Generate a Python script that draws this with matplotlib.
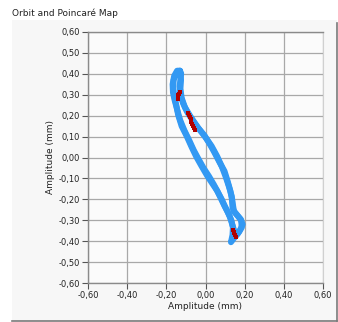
import matplotlib
matplotlib.use("Agg")
import matplotlib.pyplot as plt
from matplotlib.patches import Rectangle
from matplotlib.lines import Line2D

# orbit trace (mm), one closed pass
orbit_x = [-0.130, -0.145, -0.160, -0.168, -0.166, -0.158, -0.145, -0.130, -0.108,
           -0.082, -0.060, -0.037, -0.010, 0.018, 0.043, 0.063, 0.083, 0.100,
           0.118, 0.132, 0.140, 0.138, 0.130, 0.142, 0.165, 0.185, 0.182, 0.165,
           0.148, 0.138, 0.135, 0.127, 0.112, 0.097, 0.070, 0.042, 0.018, -0.005,
           -0.036, -0.068, -0.095, -0.115, -0.128, -0.132, -0.128, -0.124, -0.130]
orbit_y = [0.415, 0.415, 0.390, 0.350, 0.310, 0.275, 0.230, 0.180, 0.130,
           0.080, 0.035, -0.005, -0.050, -0.090, -0.130, -0.165, -0.200, -0.235,
           -0.270, -0.300, -0.335, -0.370, -0.405, -0.390, -0.365, -0.335, -0.300, -0.280,
           -0.262, -0.240, -0.200, -0.160, -0.110, -0.065, -0.020, 0.030, 0.070, 0.105,
           0.140, 0.180, 0.220, 0.260, 0.300, 0.340, 0.375, 0.400, 0.415]

# second pass, slightly shifted, gives the band its width
orbit2_x = [-0.128, -0.150, -0.163, -0.164, -0.160, -0.150, -0.140, -0.122, -0.095,
            -0.071, -0.048, -0.021, 0.007, 0.035, 0.060, 0.078, 0.096, 0.113,
            0.125, 0.135, 0.145, 0.140, 0.150, 0.172, 0.190, 0.180, 0.162, 0.145,
            0.140, 0.134, 0.120, 0.104, 0.084, 0.060, 0.031, -0.003, -0.040, -0.076,
            -0.105, -0.122, -0.128, -0.125, -0.128]
orbit2_y = [0.405, 0.400, 0.370, 0.330, 0.295, 0.255, 0.205, 0.150, 0.100,
            0.050, 0.005, -0.040, -0.085, -0.125, -0.160, -0.195, -0.230, -0.260,
            -0.285, -0.315, -0.345, -0.380, -0.375, -0.355, -0.320, -0.295, -0.275, -0.255,
            -0.225, -0.185, -0.140, -0.095, -0.045, 0.005, 0.055, 0.100, 0.145, 0.195,
            0.240, 0.285, 0.330, 0.370, 0.405]

# Poincare points
poinc_x = [-0.142, -0.138, -0.134, -0.130, -0.140,
           -0.088, -0.084, -0.080, -0.076, -0.072, -0.068, -0.064, -0.060, -0.056,
           0.138, 0.143, 0.148, 0.153, 0.157]
poinc_y = [0.280, 0.292, 0.302, 0.312, 0.300,
           0.212, 0.202, 0.192, 0.182, 0.172, 0.162, 0.152, 0.142, 0.132,
           -0.345, -0.355, -0.363, -0.370, -0.378]

ticks = [-0.6, -0.5, -0.4, -0.3, -0.2, -0.1, 0.0, 0.1, 0.2, 0.3, 0.4, 0.5, 0.6]
xticks = [-0.6, -0.4, -0.2, 0.0, 0.2, 0.4, 0.6]

def fmt(v):
    return ("%.2f" % v).replace(".", ",").replace("-0,00", "0,00")

plt.rcParams['font.family'] = ['DejaVu Sans']

fig = plt.figure(figsize=(3.38, 3.22), dpi=100, facecolor='white')

# panel behind the plot
fig.add_artist(Rectangle((12 / 338, 1 / 322), 325 / 338, 301 / 322,
                         transform=fig.transFigure, facecolor='#f7f7f7',
                         edgecolor='none', zorder=0))
fig.add_artist(Line2D([336.5 / 338, 336.5 / 338], [1 / 322, 299 / 322],
                      transform=fig.transFigure, color='#7a7a7a', lw=1.2))
fig.add_artist(Line2D([12 / 338, 337 / 338], [1.2 / 322, 1.2 / 322],
                      transform=fig.transFigure, color='#7a7a7a', lw=1.2))

fig.text(12 / 338, 1 - 13 / 322, "Orbit and Poincaré Map", fontsize=6.5,
         va='center', ha='left', color='#222222')

ax = fig.add_axes([88 / 338, 1 - 283 / 322, 235 / 338, 251 / 322])
ax.set_facecolor('#fbfbfb')
ax.set_xlim(-0.6, 0.6)
ax.set_ylim(-0.6, 0.6)

ax.plot(orbit_x, orbit_y, color='#3399f3', lw=4.3, solid_capstyle='round',
        solid_joinstyle='round', zorder=3)
ax.plot(orbit2_x, orbit2_y, color='#3399f3', lw=4.3, solid_capstyle='round',
        solid_joinstyle='round', zorder=3)
ax.scatter(poinc_x, poinc_y, s=10, color='#b00000', marker='s', lw=0, zorder=4)

ax.set_xticks(xticks)
ax.set_yticks(ticks)
ax.set_xticklabels([fmt(v) for v in xticks])
ax.set_yticklabels([fmt(v) for v in ticks])
ax.tick_params(axis='both', labelsize=6, colors='#555555', labelcolor='#222222',
               length=4, width=0.8, pad=1.5)
ax.grid(True, color='#a8a8a8', lw=0.9)
ax.set_axisbelow(True)

for s in ['left', 'bottom', 'top']:
    ax.spines[s].set_color('#8a8a8a')
    ax.spines[s].set_linewidth(1.0)
ax.spines['right'].set_color('#d0d0d0')

ax.set_xlabel("Amplitude (mm)", fontsize=6.5, color='#222222', labelpad=2)
ax.set_ylabel("Amplitude (mm)", fontsize=6.5, color='#222222', labelpad=3)

fig.savefig("out.png", dpi=100)
